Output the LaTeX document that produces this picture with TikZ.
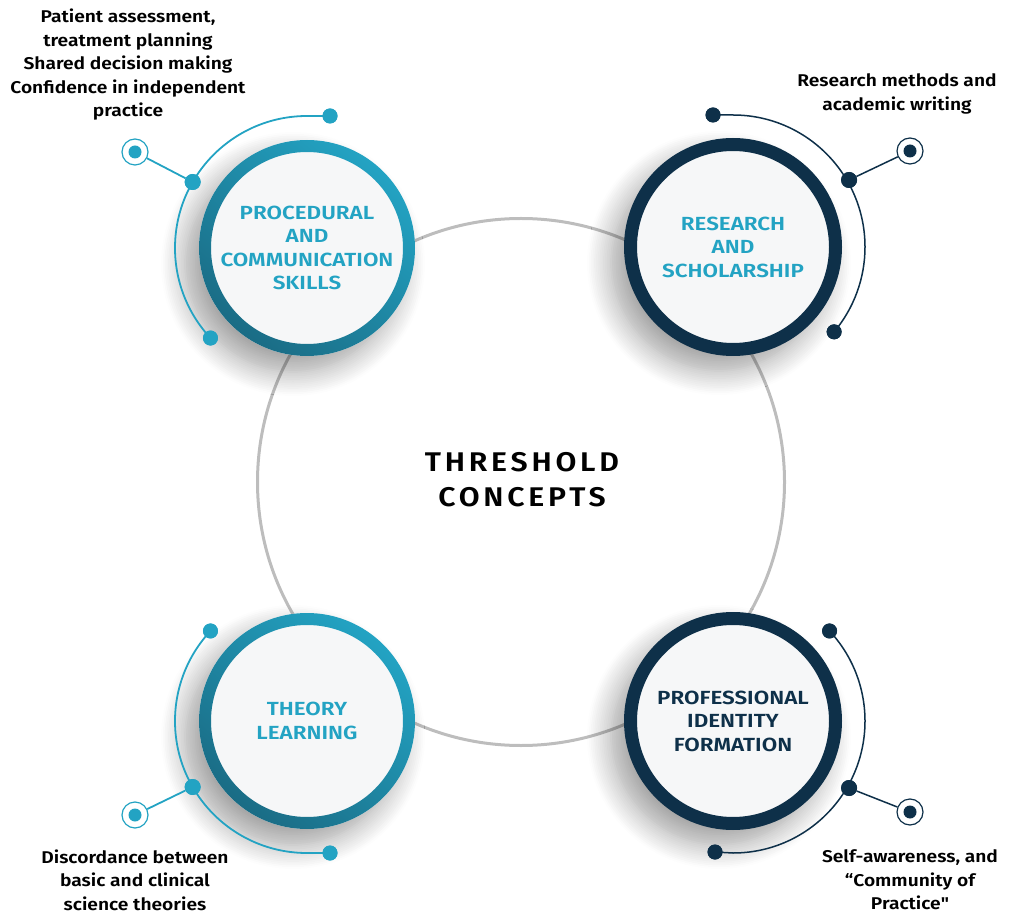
\documentclass[tikz,border=0pt]{standalone}
\usepackage{fontspec}
\setmainfont{Fira Sans}[BoldFont={Fira Sans SemiBold}]
\usetikzlibrary{shadows.blur}

\definecolor{tealA}{HTML}{23A3C3}
\definecolor{tealB}{HTML}{1A6C85}
\definecolor{navy}{HTML}{0E3049}
\definecolor{loopgray}{HTML}{BDBDBD}
\definecolor{discfill}{HTML}{F6F7F8}

\tikzset{
    disc/.style={circle, fill=discfill, minimum size=216pt, inner sep=0pt, align=center,
        font=\bfseries\fontsize{19}{23.5}\selectfont\addfontfeature{FakeStretch=1.18},
        blur shadow={shadow xshift=-14pt, shadow yshift=-16pt, shadow blur radius=24pt,
            shadow blur steps=14, shadow opacity=38}},
    enddot/.style={circle, fill=#1, inner sep=0pt, minimum size=15pt},
    hubdot/.style={circle, fill=#1, inner sep=0pt, minimum size=16pt},
    target/.style={circle, draw=#1, fill=white, line width=1.2pt, inner sep=0pt, minimum size=26pt,
        path picture={\fill[#1] (path picture bounding box.center) circle (6.5pt);}},
    note/.style={align=center, font=\bfseries\fontsize{17}{23.5}\selectfont\addfontfeature{FakeStretch=1.13}}
}

\begin{document}
\begin{tikzpicture}[x=1pt, y=1pt]
    \useasboundingbox (0,0) rectangle (1014,914);

    % central loop
    \node[circle, draw=loopgray, line width=3pt, minimum size=527pt, inner sep=0pt] (tc) at (521,432) {};
    \node[font=\bfseries\fontsize{27}{35}\selectfont\addfontfeature{LetterSpace=14,FakeStretch=1.12}, align=center] (tctext) at (522,434) {THRESHOLD\\CONCEPTS};

    % the four discs
    \node[disc, text=tealA] (pcs) at (307,666) {PROCEDURAL\\AND\\COMMUNICATION\\SKILLS};
    \node[disc, text=tealA] (rs) at (733,667) {RESEARCH\\AND\\SCHOLARSHIP};
    \node[disc, text=tealA] (tl) at (307,193) {THEORY\\LEARNING};
    \node[disc, text=navy] (pif) at (733,193) {PROFESSIONAL\\IDENTITY\\FORMATION};

    \shade[top color=tealA, bottom color=tealB, shading angle=-40, even odd rule]
        (pcs.center) circle (108pt) (pcs.center) circle (96pt);
    \shade[top color=tealA, bottom color=tealB, shading angle=-40, even odd rule]
        (tl.center) circle (108pt) (tl.center) circle (96pt);
    \fill[navy, even odd rule] (rs.center) circle (109pt) (rs.center) circle (96pt);
    \fill[navy, even odd rule] (pif.center) circle (109pt) (pif.center) circle (96pt);

    % arcs round the discs
    \coordinate (pcsA) at ([shift={(90:132)}]pcs.center);
    \node[enddot=tealA] (pcsE1) at (330,798) {};
    \node[enddot=tealA] (pcsE2) at ([shift={(223:132)}]pcs.center) {};
    \node[hubdot=tealA] (pcsH) at ([shift={(150:132)}]pcs.center) {};
    \node[target=tealA] (pcsT) at (135,762) {};
    \draw[tealA, line width=1.8pt] (pcsE1.center) -- (pcsA) arc[start angle=90, end angle=223, radius=132];
    \draw[tealA, line width=1.8pt] (pcsH) -- (pcsT);

    \coordinate (rsA) at ([shift={(90:132)}]rs.center);
    \node[enddot=navy] (rsE1) at (713,799) {};
    \node[enddot=navy] (rsE2) at ([shift={(-40:132)}]rs.center) {};
    \node[hubdot=navy] (rsH) at ([shift={(30:134)}]rs.center) {};
    \node[target=navy] (rsT) at (910,763) {};
    \draw[navy, line width=1.5pt] (rsE1.center) -- (rsA) arc[start angle=90, end angle=-40, radius=132];
    \draw[navy, line width=1.5pt] (rsH) -- (rsT);

    \coordinate (tlA) at ([shift={(270:132)}]tl.center);
    \node[enddot=tealA] (tlE1) at ([shift={(137:132)}]tl.center) {};
    \node[enddot=tealA] (tlE2) at (330,61) {};
    \node[hubdot=tealA] (tlH) at ([shift={(210:132)}]tl.center) {};
    \node[target=tealA] (tlT) at (135,99) {};
    \draw[tealA, line width=1.8pt] (tlE2.center) -- (tlA) arc[start angle=270, end angle=137, radius=132];
    \draw[tealA, line width=1.8pt] (tlH) -- (tlT);

    \coordinate (pifA) at ([shift={(270:132)}]pif.center);
    \node[enddot=navy] (pifE1) at ([shift={(43:132)}]pif.center) {};
    \node[enddot=navy] (pifE2) at (715,62) {};
    \node[hubdot=navy] (pifH) at ([shift={(-30:134)}]pif.center) {};
    \node[target=navy] (pifT) at (910,102) {};
    \draw[navy, line width=1.5pt] (pifE2.center) -- (pifA) arc[start angle=270, end angle=403, radius=132];
    \draw[navy, line width=1.5pt] (pifH) -- (pifT);

    % redraw dots over the lines
    \foreach \n/\c in {pcsE1/tealA, pcsE2/tealA, tlE1/tealA, tlE2/tealA, rsE1/navy, rsE2/navy, pifE1/navy, pifE2/navy}
        \fill[\c] (\n) circle (7.5pt);
    \foreach \n/\c in {pcsH/tealA, tlH/tealA, rsH/navy, pifH/navy}
        \fill[\c] (\n) circle (8pt);

    % notes
    \node[note] (pcsnote) at (128,849) {Patient assessment,\\treatment planning\\Shared decision making\\Confidence in independent\\practice};
    \node[note] (rsnote) at (897,820) {Research methods and\\academic writing};
    \node[note] (tlnote) at (135,34) {Discordance between\\basic and clinical\\science theories};
    \node[note] (pifnote) at (910,34) {Self-awareness, and\\“Community of\\Practice{\addfontfeature{Ligatures=TeXOff}"}};

\end{tikzpicture}
\end{document}
